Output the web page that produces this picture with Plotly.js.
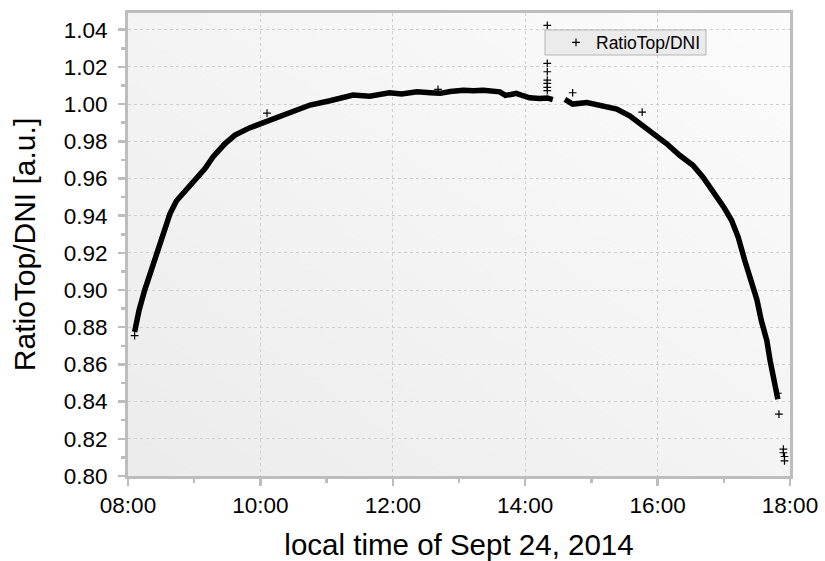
<!DOCTYPE html>
<html>
<head>
<meta charset="utf-8">
<script src="https://cdn.plot.ly/plotly-3.0.1.min.js"></script>
<style>
html,body{margin:0;padding:0;background:#fff;}
#chart{width:825px;height:561px;}
</style>
</head>
<body>
<div id="chart"></div>
<script>
// ---- data ----
const day = "2014-09-24 ";
const seg1Times = ["08:06","08:10","08:15","08:21","08:27","08:33","08:38","08:44","08:52","09:01","09:10","09:17","09:28","09:37","09:50","10:01","10:09","10:27","10:45","11:03","11:21","11:24","11:39","11:57","12:08","12:22","12:34","12:43","12:52","13:04","13:13","13:22","13:37","13:42","13:47","13:52","13:58","14:04","14:13","14:20","14:25"];
const seg1Vals = [0.8775,0.889,0.8997,0.9105,0.921,0.932,0.941,0.948,0.9536,0.959,0.9655,0.9716,0.9788,0.9833,0.9872,0.9896,0.9914,0.9959,0.9995,1.0018,1.0039,1.0049,1.0043,1.0061,1.0055,1.0066,1.0061,1.0058,1.0068,1.0075,1.0072,1.0075,1.0066,1.0047,1.0052,1.0058,1.0045,1.0034,1.003,1.0033,1.0024];
const seg2Times = ["14:36","14:39","14:43","14:56","15:11","15:23","15:35","15:44","15:56","16:08","16:20","16:32","16:41","16:50","17:00","17:07","17:13","17:19","17:25","17:30","17:34","17:39","17:42","17:45","17:48","17:49"];
const seg2Vals = [1.0025,1.0015,1.0,1.0008,0.9987,0.9973,0.9936,0.9896,0.9842,0.9788,0.9725,0.9671,0.9608,0.9536,0.9446,0.9375,0.9285,0.9159,0.9051,0.8948,0.8836,0.8728,0.862,0.853,0.8476,0.8413];
const outTimes = ["08:06","10:06","12:41","14:20","14:20","14:20","14:20","14:20","14:20","14:20","14:43","15:46","17:49","17:50","17:54","17:54","17:55","17:55"];
const outVals = [0.8755,0.9951,1.0079,1.0423,1.0219,1.0174,1.0129,1.0111,1.009,1.0072,1.0061,0.9957,0.8445,0.8333,0.8144,0.8125,0.8105,0.8081];
const seriesName = "RatioTop/DNI";
const xTitle = "local time of Sept 24, 2014";
const yTitle = "RatioTop/DNI [a.u.]";

// ---- build ----
const toX = a => a.map(t => day + t);
const lineX = toX(seg1Times).concat([null], toX(seg2Times));
const lineY = seg1Vals.concat([null], seg2Vals);

// gradient background image
const cv = document.createElement("canvas");
cv.width = 300; cv.height = 300;
const ctx = cv.getContext("2d");
const g = ctx.createLinearGradient(0, 300, 300, 0);
g.addColorStop(0, "#ececec");
g.addColorStop(1, "#fcfcfc");
ctx.fillStyle = g;
ctx.fillRect(0, 0, 300, 300);
const bgUrl = cv.toDataURL("image/png");

const FONT = "Liberation Sans, Arial, sans-serif";
const gray = "#bdbdbd";

const traces = [
  {
    x: lineX, y: lineY, type: "scatter", mode: "lines",
    line: {color: "#000", width: 5.5}, connectgaps: false,
    showlegend: false, hoverinfo: "skip"
  },
  {
    x: toX(outTimes), y: outVals, type: "scatter", mode: "markers",
    name: seriesName,
    marker: {symbol: "cross-thin", size: 5.5, color: "#000", line: {color: "#000", width: 1.2}}
  }
];

const layout = {
  width: 825, height: 561,
  margin: {l: 128, r: 35, t: 13, b: 85},
  paper_bgcolor: "#ffffff",
  plot_bgcolor: "rgba(0,0,0,0)",
  font: {family: FONT, color: "#000"},
  showlegend: true,
  images: [{
    source: bgUrl, xref: "paper", yref: "paper", x: 0, y: 1,
    sizex: 1, sizey: 1, sizing: "stretch", layer: "below",
    xanchor: "left", yanchor: "top"
  }],
  shapes: [{
    type: "rect", xref: "paper", yref: "paper",
    x0: (545 - 128) / 662, x1: (706 - 128) / 662,
    y0: (476 - 55) / 463, y1: (476 - 30) / 463,
    fillcolor: "#ebebeb", line: {color: "#b5b5b5", width: 1}, layer: "above"
  }],
  xaxis: {
    type: "date",
    range: [day + "08:00", day + "18:00"],
    tick0: day + "08:00", dtick: 7200000,
    tickformat: "%H:%M",
    tickfont: {size: 22.5, family: FONT},
    ticks: "outside", ticklen: 7, tickwidth: 2.5, tickcolor: gray,
    showline: true, linecolor: gray, linewidth: 3, mirror: true,
    showgrid: true, gridcolor: "#cfcfcf", gridwidth: 1, griddash: "3px,3px",
    zeroline: false,
    minor: {dtick: 3600000, ticklen: 4, tickwidth: 2.5, tickcolor: gray, showgrid: false},
    title: {text: xTitle, font: {size: 29.5, family: FONT}, standoff: 20}
  },
  yaxis: {
    range: [0.8, 1.049],
    tick0: 0.8, dtick: 0.02, tickformat: ".2f",
    tickfont: {size: 22.5, family: FONT},
    ticks: "outside", ticklen: 7, tickwidth: 2.5, tickcolor: gray,
    ticklabelstandoff: 6,
    showline: true, linecolor: gray, linewidth: 3, mirror: true,
    showgrid: true, gridcolor: "#cfcfcf", gridwidth: 1, griddash: "3px,3px",
    zeroline: false,
    minor: {dtick: 0.01, ticklen: 4, tickwidth: 2.5, tickcolor: gray, showgrid: false},
    title: {text: yTitle, font: {size: 30, family: FONT}, standoff: 20}
  },
  legend: {
    x: (556 - 128) / 662, y: 0.975, xanchor: "left", yanchor: "top",
    bgcolor: "rgba(0,0,0,0)", borderwidth: 0,
    font: {size: 17.5, family: FONT}
  }
};

Plotly.newPlot("chart", traces, layout, {displayModeBar: false, staticPlot: true});
</script>
</body>
</html>
